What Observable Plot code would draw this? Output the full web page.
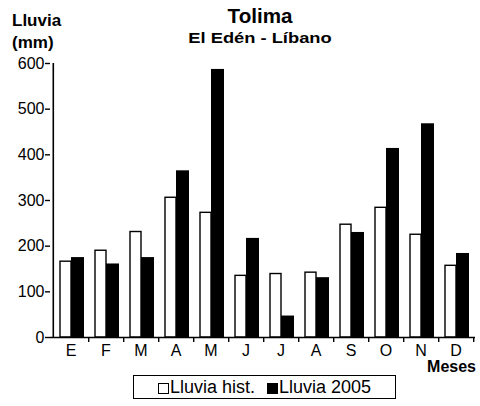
<!DOCTYPE html>
<html>
<head>
<meta charset="utf-8">
<script src="https://cdn.jsdelivr.net/npm/d3@7"></script>
<script src="https://cdn.jsdelivr.net/npm/@observablehq/plot@0.6"></script>
<style>
  html, body { margin: 0; padding: 0; background: #fff; }
  #wrap { position: relative; width: 480px; height: 406px; font-family: "Liberation Sans", Arial, sans-serif; color: #000; }
  .t { position: absolute; line-height: 1; white-space: nowrap; }
  #chart svg { display: block; }
  #legend { position: absolute; left: 133px; top: 375px; width: 263px; height: 24px; border: 1.5px solid #000; box-sizing: border-box;
            display: flex; align-items: center; justify-content: center; font-size: 18px; gap: 12px; }
  .sw { display: inline-block; width: 11px; height: 11px; border: 1.3px solid #000; box-sizing: border-box; margin-right: 1px; vertical-align: -1px; }
</style>
</head>
<body>
<div id="wrap">
  <div id="chart"></div>
  <div class="t" style="left:12px; top:12px; font-size:17px; font-weight:bold;">Lluvia</div>
  <div class="t" style="left:12px; top:34px; font-size:17px; font-weight:bold;">(mm)</div>
  <div class="t" style="left:260px; top:6px; font-size:20px; font-weight:bold; transform:translateX(-50%) scaleX(1.03);">Tolima</div>
  <div class="t" style="left:260px; top:30px; font-size:15px; font-weight:bold; transform:translateX(-50%) scaleX(1.22);">El Edén - Líbano</div>
  <div class="t" style="right:4px; top:359px; font-size:16px; font-weight:bold;">Meses</div>
  <div id="legend">
    <span><span class="sw" style="background:#fff"></span>Lluvia hist.</span>
    <span><span class="sw" style="background:#000"></span>Lluvia 2005</span>
  </div>
</div>
<script>
const monthKeys = ["Ene","Feb","Mar","Abr","May","Jun","Jul","Ago","Sep","Oct","Nov","Dic"];
const monthLabels = ["E","F","M","A","M","J","J","A","S","O","N","D"];
const lluviaHist = [166,190,231,306,273,135,139,142,247,284,225,157];
const lluvia2005 = [175,161,175,365,587,217,47,131,230,414,468,184];
const yTicks = [0,100,200,300,400,500,600];

const data = monthKeys.map((k, i) => ({key: k, hist: lluviaHist[i], y2005: lluvia2005[i]}));
const labelOf = Object.fromEntries(monthKeys.map((k, i) => [k, monthLabels[i]]));

const W = 480, ML = 50, MR = 5;
const step = (W - ML - MR) / monthKeys.length;

const chart = Plot.plot({
  width: W,
  height: 375,
  marginLeft: ML,
  marginRight: MR,
  marginTop: 63,
  marginBottom: 38,
  style: {fontFamily: "'Liberation Sans', Arial, sans-serif", fontSize: "16px", color: "#000", background: "#fff"},
  x: {domain: monthKeys, padding: 0, axis: null},
  y: {domain: [0, 600], axis: null},
  marks: [
    Plot.barY(data, {x: "key", y: "hist", fill: "white", stroke: "black", strokeWidth: 1.4, insetLeft: 7, insetRight: 17}),
    Plot.barY(data, {x: "key", y: "y2005", fill: "black", insetLeft: 18, insetRight: 4}),
    Plot.ruleY([0], {stroke: "black", strokeWidth: 1.6}),
    Plot.ruleX([monthKeys[0]], {y1: 0, y2: 600, dx: -step / 2, stroke: "black", strokeWidth: 1.6}),
    Plot.axisY({ticks: yTicks, tickSize: 5, tickPadding: 1, fontSize: 16, label: null, strokeWidth: 1.4}),
    Plot.axisX({tickSize: 0, tickPadding: 7, fontSize: 16, tickFormat: k => labelOf[k], label: null}),
    Plot.axisX({tickSize: 5, tickFormat: () => "", dx: step / 2, label: null, strokeWidth: 1.4})
  ]
});
document.getElementById("chart").appendChild(chart);
</script>
</body>
</html>
